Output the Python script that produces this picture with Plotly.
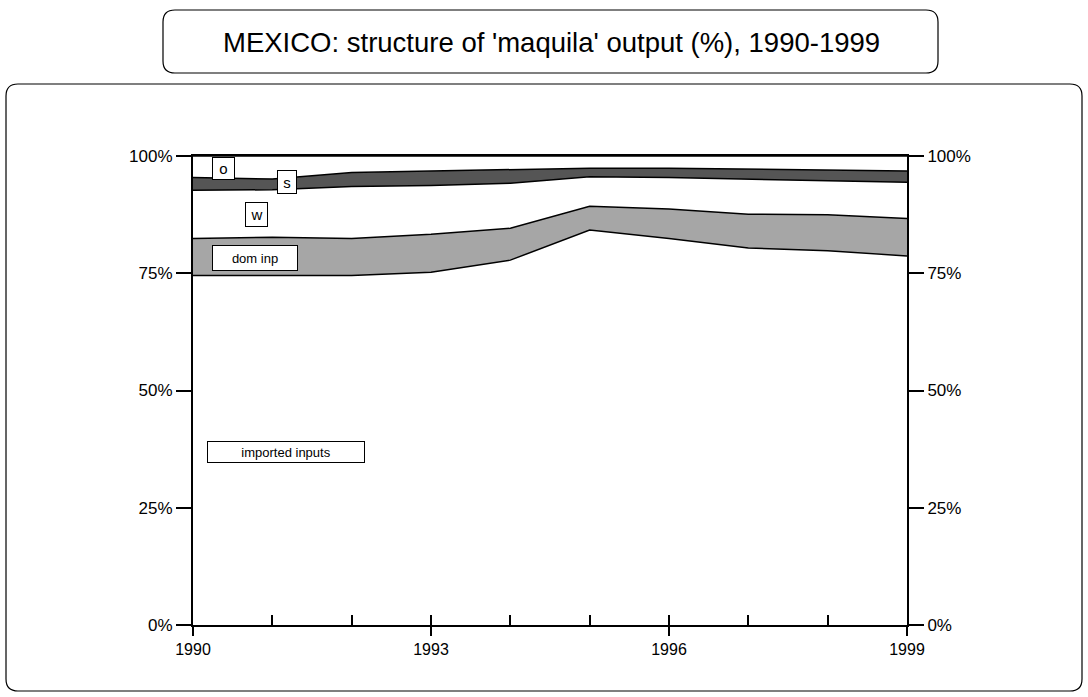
import plotly.graph_objects as go

years = [1990, 1991, 1992, 1993, 1994, 1995, 1996, 1997, 1998, 1999]
imported_inputs = [74.5, 74.5, 74.5, 75.2, 77.8, 84.2, 82.4, 80.4, 79.8, 78.7]
dom_inp = [7.9, 8.2, 7.9, 8.1, 6.8, 5.1, 6.3, 7.2, 7.7, 8.0]
wages = [10.3, 10.1, 11.1, 10.4, 9.6, 6.3, 6.7, 7.5, 7.2, 7.7]
s_share = [2.7, 2.3, 3.0, 3.1, 3.0, 1.8, 2.0, 2.1, 2.2, 2.4]
o_share = [4.6, 4.9, 3.5, 3.2, 2.8, 2.6, 2.6, 2.8, 3.1, 3.2]

y_ticks = [0, 25, 50, 75, 100]
y_ticktext = ["0%", "25%", "50%", "75%", "100%"]
x_major = [1990, 1993, 1996, 1999]

W_FIG, H_FIG = 1088, 697
L, R, T, B = 193, 907, 156, 625

def px(x):
    return (x - L) / (R - L)

def py(y):
    return (B - y) / (B - T)

def rounded_path(x0, y0, x1, y1, r):
    pts = [
        ("M", [(x0 + r, y0)]),
        ("L", [(x1 - r, y0)]),
        ("Q", [(x1, y0), (x1, y0 + r)]),
        ("L", [(x1, y1 - r)]),
        ("Q", [(x1, y1), (x1 - r, y1)]),
        ("L", [(x0 + r, y1)]),
        ("Q", [(x0, y1), (x0, y1 - r)]),
        ("L", [(x0, y0 + r)]),
        ("Q", [(x0, y0), (x0 + r, y0)]),
    ]
    s = ""
    for cmd, ps in pts:
        s += cmd + " " + " ".join(f"{px(a):.5f},{py(b):.5f}" for a, b in ps) + " "
    return s + "Z"

series = [
    ("imported inputs", imported_inputs, "white"),
    ("dom inp", dom_inp, "#a6a6a6"),
    ("w", wages, "white"),
    ("s", s_share, "#555555"),
    ("o", o_share, "white"),
]

fig = go.Figure()
for name, vals, col in series:
    fig.add_trace(go.Scatter(
        x=years, y=vals, name=name, stackgroup="one", mode="lines",
        line=dict(color="black", width=1.5), fillcolor=col,
        hoverinfo="skip", showlegend=False,
    ))

# helper trace to carry the overlay axes
fig.add_trace(go.Scatter(x=years, y=imported_inputs, xaxis="x2", yaxis="y2",
                         mode="lines", line=dict(width=0), opacity=0,
                         showlegend=False, hoverinfo="skip"))

font_main = "Liberation Sans, Arial, sans-serif"
font_narrow = "Liberation Sans Narrow, Liberation Sans, Arial, sans-serif"

fig.update_layout(
    width=W_FIG, height=H_FIG,
    margin=dict(l=L, r=W_FIG - R, t=T, b=H_FIG - B),
    paper_bgcolor="white", plot_bgcolor="white",
    font=dict(family=font_main, size=16, color="black"),
    xaxis=dict(range=[1990, 1999], tickvals=x_major, ticktext=[str(v) for v in x_major],
               ticks="outside", ticklen=9, tickwidth=1.5, tickcolor="black",
               showline=True, mirror=True, linecolor="black", linewidth=2, showgrid=False,
               zeroline=False, tickfont=dict(size=16)),
    xaxis2=dict(range=[1990, 1999], overlaying="x", tickvals=years, showticklabels=False,
                ticks="inside", ticklen=10, tickwidth=1.5, tickcolor="black",
                showline=False, showgrid=False, zeroline=False, anchor="y"),
    yaxis=dict(range=[0, 100], tickvals=y_ticks, ticktext=y_ticktext,
               ticks="outside", ticklen=15, tickwidth=1.5, tickcolor="black",
               showline=True, linecolor="black", linewidth=2, showgrid=False,
               zeroline=False, tickfont=dict(size=17)),
    yaxis2=dict(range=[0, 100], overlaying="y", side="right", anchor="x",
                tickvals=y_ticks, ticktext=y_ticktext,
                ticks="outside", ticklen=15, tickwidth=1.5, tickcolor="black",
                showline=True, linecolor="black", linewidth=2, showgrid=False,
                zeroline=False, tickfont=dict(size=17)),
)

# frames
fig.add_shape(type="path", xref="paper", yref="paper",
              path=rounded_path(163, 10, 938, 73, 12),
              line=dict(color="black", width=1.2), fillcolor="white", layer="below")
fig.add_shape(type="path", xref="paper", yref="paper",
              path=rounded_path(6, 84, 1082, 691, 12),
              line=dict(color="black", width=1.2), layer="below")

fig.add_annotation(xref="paper", yref="paper", x=px(551), y=py(42),
                   text="MEXICO: structure of 'maquila' output (%), 1990-1999",
                   showarrow=False, xanchor="center", yanchor="middle",
                   font=dict(family=font_main, size=27.5, color="black"))

labels = [
    ("o", 1990.39, 97.3, 19, 19, 15),
    ("s", 1991.185, 94.4, 16, 20, 15),
    ("w", 1990.80, 87.5, 19, 21, 15),
    ("dom inp", 1990.78, 78.2, 82, 22, 13),
    ("imported inputs", 1991.17, 36.8, 154, 18, 13),
]
for txt, x, y, w, h, fs in labels:
    fig.add_annotation(x=x, y=y, xref="x", yref="y", text=txt, showarrow=False,
                       xanchor="center", yanchor="middle", width=w, height=h,
                       bgcolor="white", bordercolor="black", borderwidth=1, borderpad=1,
                       font=dict(family=font_narrow, size=fs, color="black"))

fig.write_html("out.html", config={"displayModeBar": False},
               post_script="document.body.style.margin='0';")
